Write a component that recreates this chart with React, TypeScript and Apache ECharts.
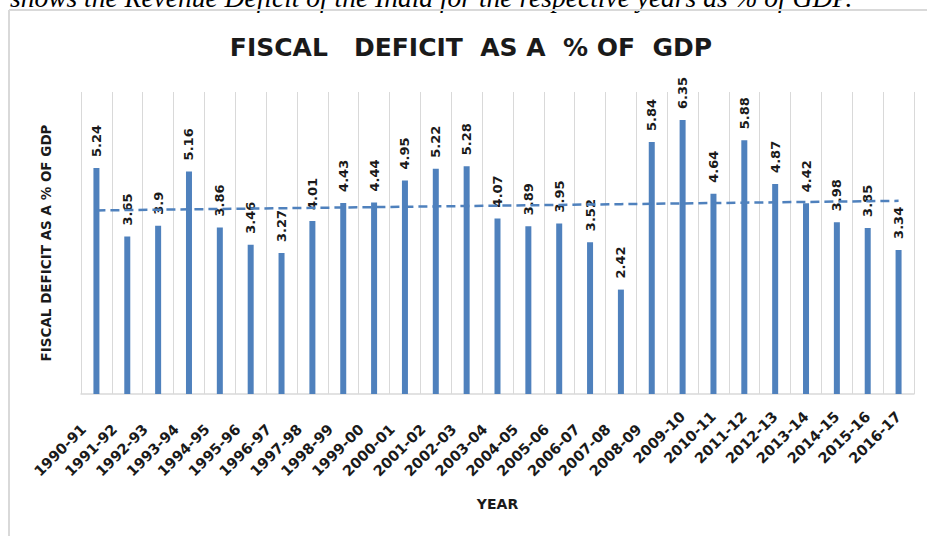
import React, { useEffect, useRef } from "react";
import * as echarts from "echarts";

const categories = [
  "1990-91", "1991-92", "1992-93", "1993-94", "1994-95", "1995-96", "1996-97",
  "1997-98", "1998-99", "1999-00", "2000-01", "2001-02", "2002-03", "2003-04",
  "2004-05", "2005-06", "2006-07", "2007-08", "2008-09", "2009-10", "2010-11",
  "2011-12", "2012-13", "2013-14", "2014-15", "2015-16", "2016-17",
];

const fiscalDeficit = [
  5.24, 3.65, 3.9, 5.16, 3.86, 3.46, 3.27, 4.01, 4.43, 4.44, 4.95, 5.22, 5.28,
  4.07, 3.89, 3.95, 3.52, 2.42, 5.84, 6.35, 4.64, 5.88, 4.87, 4.42, 3.98, 3.85,
  3.34,
];

const titleText = "FISCAL   DEFICIT  AS A  % OF  GDP";
const yAxisTitle = "FISCAL DEFICIT AS A % OF GDP";
const xAxisTitle = "YEAR";
const captionText = "shows the Revenue Deficit of the India for the respective years as % of GDP.";

// Linear (least-squares) trendline over the category index, as Excel draws it
function linearTrend(values: number[]): number[] {
  const n = values.length;
  let sx = 0, sy = 0, sxx = 0, sxy = 0;
  values.forEach((y, i) => {
    sx += i; sy += y; sxx += i * i; sxy += i * y;
  });
  const slope = (n * sxy - sx * sy) / (n * sxx - sx * sx);
  const intercept = (sy - slope * sx) / n;
  return values.map((_, i) => +(intercept + slope * i).toFixed(4));
}

const BAR = "#4f81bd";
const FONT = "DejaVu Sans";

export default function App() {
  const ref = useRef<HTMLDivElement>(null);

  useEffect(() => {
    document.body.style.margin = "0";
    if (!ref.current) return;
    const chart = echarts.init(ref.current, undefined, { renderer: "svg" });
    const labelFont = {
      fontFamily: FONT,
      fontWeight: "bold" as const,
      fontSize: 14.5,
      color: "#1a1a1a",
    };
    chart.setOption({
      animation: false,
      backgroundColor: "#ffffff",
      grid: { left: 81, right: 13, top: 92, bottom: 142, containLabel: false },
      graphic: [
        {
          type: "text",
          x: 10,
          y: -3,
          style: {
            text: captionText,
            font: "italic 27.5px 'Liberation Serif'",
            fill: "#000",
            verticalAlign: "middle",
          },
          silent: true,
        },
        {
          type: "line",
          shape: { x1: 9, y1: 10, x2: 927, y2: 10 },
          style: { stroke: "#d9d9d9", lineWidth: 2 },
          silent: true,
        },
        {
          type: "line",
          shape: { x1: 9, y1: 10, x2: 9, y2: 536 },
          style: { stroke: "#d9d9d9", lineWidth: 2 },
          silent: true,
        },
        {
          type: "text",
          x: 471,
          y: 47,
          style: {
            text: titleText,
            fontFamily: FONT,
            fontWeight: "bold",
            fontSize: 25,
            fill: "#1a1a1a",
            align: "center",
            verticalAlign: "middle",
          },
          silent: true,
        },
      ],
      xAxis: {
        type: "category",
        data: categories,
        boundaryGap: true,
        axisLine: { show: true, lineStyle: { color: "#d9d9d9", width: 1.5 } },
        axisTick: { show: false },
        splitLine: { show: true, lineStyle: { color: "#d9d9d9", width: 1 } },
        axisLabel: {
          interval: 0,
          rotate: 45,
          margin: 20,
          ...labelFont,
          formatter: (v: string, i: number) => (i < 19 ? `{p|${v}}` : `{q|${v}}`),
          rich: {
            p: { ...labelFont, padding: [0, 18, 0, 0] },
            q: { ...labelFont },
          },
        },
        name: xAxisTitle,
        nameLocation: "middle",
        nameGap: 103,
        nameTextStyle: { fontFamily: FONT, fontWeight: "bold", fontSize: 14, color: "#1a1a1a" },
      },
      yAxis: {
        type: "value",
        min: 0,
        max: 7,
        axisLabel: { show: false },
        axisLine: { show: false },
        axisTick: { show: false },
        splitLine: { show: false },
        name: yAxisTitle,
        nameLocation: "middle",
        nameRotate: 90,
        nameGap: 28,
        nameTextStyle: { fontFamily: FONT, fontWeight: "bold", fontSize: 13.5, color: "#1a1a1a" },
      },
      series: [
        {
          type: "bar",
          data: fiscalDeficit,
          barWidth: 6,
          itemStyle: { color: BAR },
          label: {
            show: true,
            position: "top",
            rotate: 90,
            align: "left",
            verticalAlign: "middle",
            distance: 11,
            fontFamily: FONT,
            fontWeight: "bold",
            fontSize: 13,
            color: "#1a1a1a",
          },
          z: 2,
        },
        {
          type: "line",
          data: linearTrend(fiscalDeficit),
          symbol: "none",
          lineStyle: { color: BAR, width: 2.5, type: [9, 5] },
          z: 3,
        },
      ],
    });
    return () => chart.dispose();
  }, []);

  return <div ref={ref} style={{ width: 927, height: 536 }} />;
}
